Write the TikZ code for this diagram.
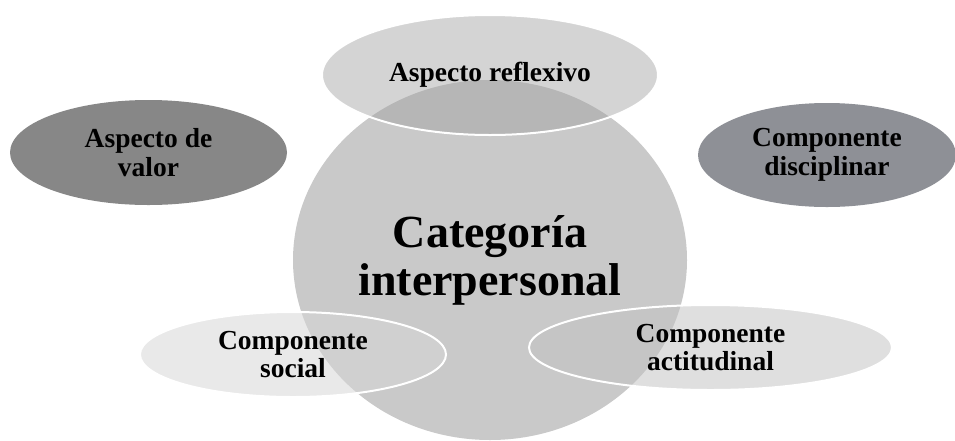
\documentclass[tikz,border=0pt]{standalone}
\usepackage{fontspec}
\setmainfont{Liberation Serif}
\usetikzlibrary{shapes.geometric}
\definecolor{circfill}{RGB}{201,201,201}
\definecolor{topfill}{RGB}{158,158,158}
\definecolor{valfill}{RGB}{135,135,135}
\definecolor{discfill}{RGB}{142,144,150}
\definecolor{socfill}{RGB}{214,214,214}
\definecolor{actfill}{RGB}{194,194,194}
\begin{document}
\begin{tikzpicture}[x=1pt,y=-1pt,
  blob/.style={ellipse, inner sep=0pt, align=center, text=black, text opacity=1,
    font=\fontsize{27.5}{28.5}\selectfont\bfseries},
  rim/.style={draw=white, line width=2pt},
]
\useasboundingbox (0,0) rectangle (955,440);
\node[blob, fill=circfill, minimum width=394pt, minimum height=360pt] (cat) at (490,260) {};
\node[blob, fill=valfill, minimum width=277pt, minimum height=105pt] (valor) at (148.5,152.5) {Aspecto de\\valor};
\node[blob, fill=discfill, minimum width=258pt, minimum height=104pt] (disc) at (827,155) {Componente\\disciplinar};
\node[blob, rim, fill=topfill, fill opacity=0.44, minimum width=336pt, minimum height=120pt] (refl) at (490,75) {Aspecto reflexivo};
\node[blob, rim, fill=socfill, fill opacity=0.54, minimum width=306pt, minimum height=85pt] (soc) at (293,354.5) {Componente\\social};
\node[blob, rim, fill=actfill, fill opacity=0.52, minimum width=363pt, minimum height=85pt] (act) at (710.5,347.5) {Componente\\actitudinal};
\node[align=center, font=\fontsize{46}{48}\selectfont\bfseries] (catlabel) at (cat.center) {Categoría\\interpersonal};
\end{tikzpicture}
\end{document}
